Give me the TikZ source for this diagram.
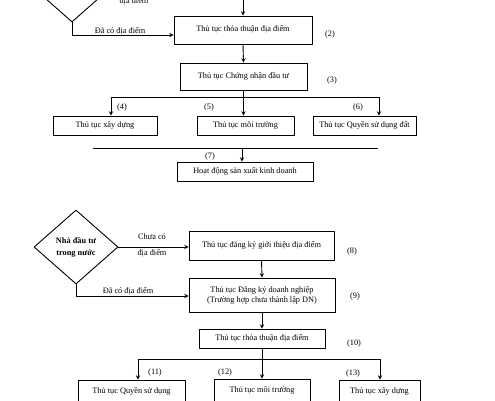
\documentclass[tikz,border=0pt]{standalone}
\usepackage{fontspec}
\setmainfont{Liberation Serif}
\usetikzlibrary{shapes.geometric}
\tikzset{
  hop/.style={draw, line width=0.9pt, inner sep=1pt, align=center},
  thoi/.style={draw, diamond, line width=0.9pt, minimum width=84pt, minimum height=74pt,
    inner sep=0pt, align=center, font=\fontsize{8.3}{12}\selectfont\bfseries},
  nhan/.style={inner sep=1pt},
}
\begin{document}
\begin{tikzpicture}[x=1pt, y=-1pt, >=stealth, line width=0.9pt, line join=round,
    font=\fontsize{8.3}{10}\selectfont]
  \useasboundingbox (0,0) rectangle (495,400);
  \clip (0,0) rectangle (495,400);
  % Nhà đầu tư nước ngoài (phần trên)
  \node[thoi] (nn1) at (72,-15) {};
  \node[hop, minimum width=138pt, minimum height=28pt] (tt1) at (243,30) {\raisebox{3pt}{Thủ tục thỏa thuận địa điểm}};
  \node[hop, minimum width=127pt, minimum height=27pt] (cn) at (243.5,76.5) {\raisebox{3pt}{Thủ tục Chứng nhận đầu tư}};
  \node[hop, minimum width=104pt, minimum height=19pt] (xd1) at (105,125.5) {Thủ tục xây dựng};
  \node[hop, minimum width=97pt, minimum height=19pt] (mt1) at (245.5,125.5) {Thủ tục môi trường};
  \node[hop, minimum width=103pt, minimum height=19pt] (qsd1) at (364.5,125.5) {Thủ tục Quyền sử dụng đất};
  \node[hop, minimum width=136pt, minimum height=19pt] (hd) at (245,171.5) {Hoạt động sản xuất kinh doanh};
  \coordinate (t0) at (243,-5);
  \coordinate (k1) at (72,35);
  \coordinate (r4) at (111,97); \coordinate (r5) at (243.5,97); \coordinate (r6) at (379,97);
  \coordinate (g1) at (93,148); \coordinate (g2) at (378,148); \coordinate (g7) at (242,148);
  \draw[->] (t0) -- (tt1.north);
  \draw[->] (nn1.south) -- (k1) -- (k1 -| tt1.west);
  \draw[->] (tt1.south) -- (cn.north);
  \draw (cn.south) -- (r5);
  \draw (r4) -- (r6);
  \draw[->] (r4) -- (r4 |- xd1.north);
  \draw[->] (r5) -- (r5 |- mt1.north);
  \draw[->] (r6) -- (r6 |- qsd1.north);
  \draw (g1) -- (g2);
  \draw[->] (g7) -- (g7 |- hd.north);
  \node[nhan] at (134,1) {địa điểm};
  \node[nhan] at (120,31) {Đã có địa điểm};
  \node[nhan] at (330,34) {(2)};
  \node[nhan] at (332,80) {(3)};
  \node[nhan] at (122,107) {(4)};
  \node[nhan] at (209,107) {(5)};
  \node[nhan] at (358,107) {(6)};
  \node[nhan] at (210,156) {(7)};
  % Nhà đầu tư trong nước (phần dưới)
  \node[thoi] (nn2) at (76,247) {Nhà đầu tư\\trong nước};
  \node[hop, minimum width=145pt, minimum height=29pt] (gt) at (261.5,245.5) {\raisebox{3pt}{Thủ tục đăng ký giới thiệu địa điểm}};
  \node[hop, minimum width=146pt, minimum height=34pt] (dn) at (262,295) {Thủ tục Đăng ký doanh nghiệp\\(Trường hợp chưa thành lập DN)};
  \node[hop, minimum width=126pt, minimum height=19pt] (tt2) at (262,338.5) {Thủ tục thỏa thuận địa điểm};
  \node[hop, minimum width=107pt, minimum height=22pt] (qsd2) at (131.5,391) {Thủ tục Quyền sử dụng};
  \node[hop, minimum width=96pt, minimum height=22pt] (mt2) at (262,390) {Thủ tục môi trường};
  \node[hop, minimum width=81pt, minimum height=22pt] (xd2) at (379.5,391) {Thủ tục xây dựng};
  \coordinate (k2) at (76,296);
  \coordinate (s11) at (138,359); \coordinate (s12) at (262,359); \coordinate (s13) at (380,359);
  \draw[->] (nn2.east) -- (nn2.east -| gt.west);
  \draw[->] (nn2.south) -- (k2) -- (k2 -| dn.west);
  \draw[->] (gt.south) -- (dn.north);
  \draw[->] (dn.south) -- (tt2.north);
  \draw (tt2.south) -- (s12);
  \draw (s11) -- (s13);
  \draw[->] (s11) -- (s11 |- qsd2.north);
  \draw[->] (s12) -- (s12 |- mt2.north);
  \draw[->] (s13) -- (s13 |- xd2.north);
  \node[nhan] at (152,237) {Chưa có};
  \node[nhan] at (152,253) {địa điểm};
  \node[nhan] at (128,291) {Đã có địa điểm};
  \node[nhan] at (352,251) {(8)};
  \node[nhan] at (355,296) {(9)};
  \node[nhan] at (354,343) {(10)};
  \node[nhan] at (155,372) {(11)};
  \node[nhan] at (225,372) {(12)};
  \node[nhan] at (353,373) {(13)};
\end{tikzpicture}
\end{document}
